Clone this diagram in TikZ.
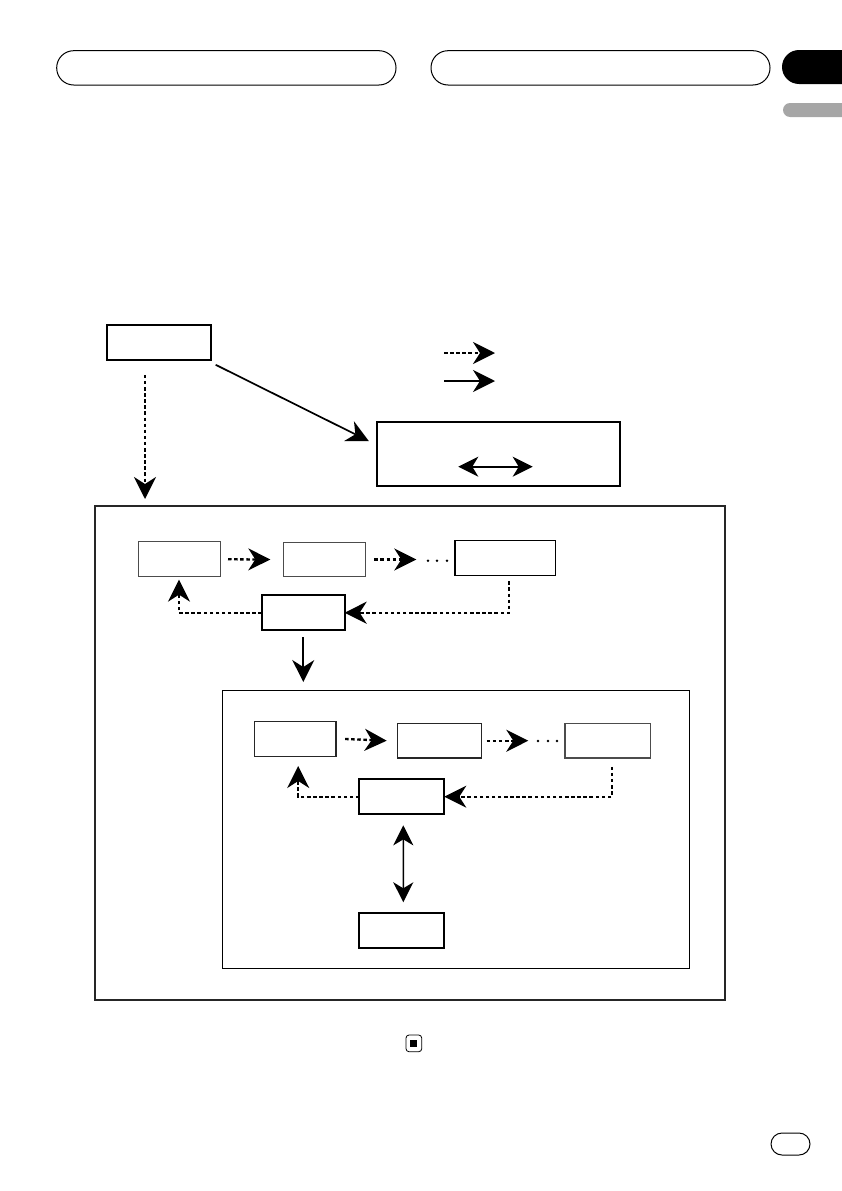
\documentclass[tikz,border=0pt]{standalone}
\usepackage{tikz}
\usetikzlibrary{arrows.meta}

\begin{document}
\begin{tikzpicture}[x=1pt,y=-1pt,
	menubox/.style={draw, line width=1.2pt, minimum width=82pt, minimum height=34.7pt, inner sep=0pt, outer sep=0pt},
	thickbox/.style={menubox, line width=2pt},
	greybox/.style={menubox, line width=1pt, draw=black!70},
	dasharrow/.style={line width=2.3pt, dash pattern=on 3.5pt off 2.6pt, -{Stealth[length=22pt,width=22pt,inset=7pt]}},
	solidarrow/.style={line width=1.7pt, -{Stealth[length=22pt,width=22pt,inset=7pt]}},
	bothways/.style={line width=1.6pt, {Stealth[length=20pt,width=20pt,inset=6pt]}-{Stealth[length=20pt,width=20pt,inset=6pt]}},
	pill/.style={draw, line width=1pt}]
	\useasboundingbox (0,0) rectangle (841,1191);

	% page header
	\draw [pill, rounded corners=17pt] (56.7,50.7) rectangle (396,85);
	\draw [pill, rounded corners=17pt] (431,50.7) rectangle (770,85);
	\fill [rounded corners=17pt] (782,50) rectangle (880,84);
	\fill [black!35, rounded corners=7pt] (783,103) rectangle (880,117);

	% start and legend
	\node [thickbox, minimum width=104pt, minimum height=35pt] (start) at (158.7,342.3) {};
	\coordinate (ld1) at (444,353);
	\coordinate (ld2) at (495,353);
	\coordinate (ls1) at (444,381);
	\coordinate (ls2) at (495,381);
	\draw [dasharrow] (ld1) -- (ld2);
	\draw [solidarrow] (ls1) -- (ls2);

	\node [menubox, line width=1.6pt, minimum width=243pt, minimum height=64pt] (res) at (498.3,454) {};
	\draw [bothways]
	  ([xshift=-40pt,yshift=-12.7pt]res.center) --
	  ([xshift=34.4pt,yshift=-12.7pt]res.center);

	% frames
	\node [draw, line width=1.8pt, draw=black!85, minimum width=630pt, minimum height=494pt, inner sep=0pt, outer sep=0pt] (frame) at (410,753) {};
	\node [draw, line width=1pt, minimum width=466.7pt, minimum height=278.3pt, inner sep=0pt, outer sep=0pt] (inner) at (456.3,829.2) {};

	\draw [dasharrow]
	  ([xshift=-13.7pt,yshift=-15pt]start.south) --
	  ([xshift=50pt,yshift=7pt]frame.north west);
	\draw [solidarrow]
	  ([xshift=5pt,yshift=-5pt]start.south east) --
	  ([xshift=-8pt,yshift=13pt]res.west);

	% first row
	\node [greybox] (a1) at (179,559.3) {};
	\node [greybox] (a2) at (324.3,559.5) {};
	\node [menubox, minimum width=100.3pt, minimum height=35pt] (a3) at (505.2,557.8) {};
	\node [thickbox, minimum width=82.7pt] (cc) at (303.3,612.7) {};

	\draw [dasharrow] ([xshift=8pt]a1.east) -- ([xshift=-13pt]a2.west);
	\draw [dasharrow] ([xshift=9pt]a2.east) -- ++(42,0);
	\foreach \x in {428,437,447}
	  \fill (\x,560.7) circle (1.4);
	\draw [dasharrow] ([xshift=4pt,yshift=-6pt]a3.south) |- (cc.east);
	\draw [dasharrow] (cc.west) -| ([yshift=-3pt]a1.south);
	\draw [solidarrow] ([yshift=-7pt]cc.south) -- ++(0,45);

	% second row
	\node [menubox, draw=black!85, minimum width=81.7pt, minimum height=34.6pt] (b1) at (295.2,739) {};
	\node [menubox, draw=black!85, minimum width=84.4pt] (b2) at (439.5,740.7) {};
	\node [menubox, draw=black!70, minimum width=85.7pt] (b3) at (607.8,740.7) {};
	\node [thickbox, minimum width=85pt, minimum height=35.3pt] (c2) at (401.8,796.7) {};
	\node [thickbox, minimum width=84.7pt, minimum height=35pt] (d) at (401.4,930.8) {};

	\draw [dasharrow] ([xshift=9pt]b1.east) -- ([xshift=-10.6pt]b2.west);
	\draw [dasharrow] ([xshift=5pt]b2.east) -- ++(41.6,0);
	\foreach \x in {538,548,557}
	  \fill (\x,741) circle (1.4);
	\draw [dasharrow] ([xshift=4pt,yshift=-8.7pt]b3.south) |- (c2.east);
	\draw [dasharrow] (c2.west) -| ([xshift=3pt,yshift=-9.7pt]b1.south);
	\draw [bothways]
	  ([xshift=1.5pt,yshift=-11pt]c2.south) --
	  ([xshift=1.9pt,yshift=11pt]d.north);

	% page footer
	\draw [line width=0.8pt, rounded corners=3pt] (406,1035) rectangle (421.7,1051.7);
	\fill (410.3,1040) rectangle (417.3,1047);
	\draw [pill, rounded corners=11pt] (771,1133) rectangle (810,1155);
\end{tikzpicture}
\end{document}
